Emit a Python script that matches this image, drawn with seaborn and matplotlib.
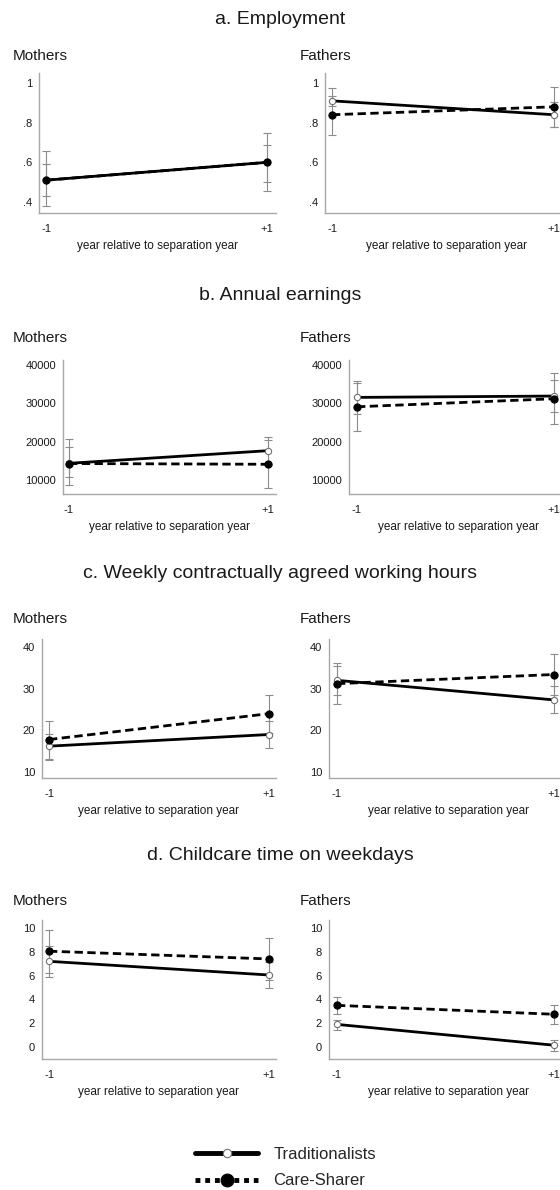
import matplotlib
matplotlib.use("Agg")
import matplotlib.pyplot as plt
from matplotlib.lines import Line2D
import seaborn as sns

# ---- data -------------------------------------------------------------
years = [-1, 1]
xtick_labels = ["-1", "+1"]
groups = ["Traditionalists", "Care-Sharer"]

# a. Employment (share employed)
emp_mothers_trad = [0.51, 0.60]
emp_mothers_trad_lo = [0.43, 0.50]
emp_mothers_trad_hi = [0.59, 0.685]
emp_mothers_care = [0.51, 0.60]
emp_mothers_care_lo = [0.38, 0.455]
emp_mothers_care_hi = [0.657, 0.75]
emp_fathers_trad = [0.91, 0.84]
emp_fathers_trad_lo = [0.885, 0.78]
emp_fathers_trad_hi = [0.935, 0.905]
emp_fathers_care = [0.84, 0.88]
emp_fathers_care_lo = [0.74, 0.78]
emp_fathers_care_hi = [0.975, 0.98]

# b. Annual earnings
earn_mothers_trad = [14350, 17650]
earn_mothers_trad_lo = [10700, 14000]
earn_mothers_trad_hi = [18500, 21300]
earn_mothers_care = [14300, 14100]
earn_mothers_care_lo = [8600, 7800]
earn_mothers_care_hi = [20600, 20400]
earn_fathers_trad = [31550, 31900]
earn_fathers_trad_lo = [27200, 27700]
earn_fathers_trad_hi = [35800, 36100]
earn_fathers_care = [29100, 31200]
earn_fathers_care_lo = [22900, 24700]
earn_fathers_care_hi = [35300, 37900]

# c. Weekly contractually agreed working hours
hours_mothers_trad = [16.2, 19.0]
hours_mothers_trad_lo = [13.2, 15.8]
hours_mothers_trad_hi = [19.2, 22.2]
hours_mothers_care = [17.8, 24.0]
hours_mothers_care_lo = [12.8, 19.4]
hours_mothers_care_hi = [22.2, 28.6]
hours_fathers_trad = [32.0, 27.3]
hours_fathers_trad_lo = [28.5, 24.1]
hours_fathers_trad_hi = [35.4, 30.7]
hours_fathers_care = [31.2, 33.4]
hours_fathers_care_lo = [26.3, 28.5]
hours_fathers_care_hi = [36.1, 38.3]

# d. Childcare time on weekdays (hours)
child_mothers_trad = [7.2, 6.05]
child_mothers_trad_lo = [5.9, 4.95]
child_mothers_trad_hi = [8.5, 7.15]
child_mothers_care = [8.05, 7.4]
child_mothers_care_lo = [6.2, 5.6]
child_mothers_care_hi = [9.85, 9.2]
child_fathers_trad = [1.9, 0.15]
child_fathers_trad_lo = [1.45, -0.35]
child_fathers_trad_hi = [2.3, 0.55]
child_fathers_care = [3.5, 2.75]
child_fathers_care_lo = [2.8, 1.95]
child_fathers_care_hi = [4.2, 3.5]

panel_titles = ["a. Employment", "b. Annual earnings",
                "c. Weekly contractually agreed working hours",
                "d. Childcare time on weekdays"]
parent_labels = ["Mothers", "Fathers"]

emp_ticks = [0.4, 0.6, 0.8, 1.0]
emp_tick_labels = [".4", ".6", ".8", "1"]
earn_ticks = [10000, 20000, 30000, 40000]
earn_tick_labels = ["10000", "20000", "30000", "40000"]
hours_ticks = [10, 20, 30, 40]
hours_tick_labels = ["10", "20", "30", "40"]
child_ticks = [0, 2, 4, 6, 8, 10]
child_tick_labels = ["0", "2", "4", "6", "8", "10"]

# ---- styling ----------------------------------------------------------
sns.set_theme(style="white")
plt.rcParams["font.family"] = ["Liberation Sans", "DejaVu Sans"]

W, H = 560, 1190
fig = plt.figure(figsize=(W / 100, H / 100), dpi=100)
fig.patch.set_facecolor("white")

SPINE = "#a8a8a8"
ERR = "#8c8c8c"
TXT = "#1a1a1a"

# pixel geometry of each row: top, bottom, (tick value, pixel) pairs, and
# per-column (left, right, px of -1, px of +1)
rows = [
    dict(top=73, bottom=213, t1=(1.0, 83), t2=(0.4, 202),
         cols=[(39, 276, 46, 267), (325, 567, 332, 554)], title_y=20, lab_y=56),
    dict(top=360, bottom=494, t1=(40000, 365), t2=(10000, 480),
         cols=[(63, 276, 69, 268), (349, 567, 357, 554)], title_y=295, lab_y=338),
    dict(top=639, bottom=778, t1=(40, 647), t2=(10, 772),
         cols=[(42, 276, 49, 269), (329, 567, 337, 554)], title_y=573, lab_y=619),
    dict(top=920, bottom=1059, t1=(10, 928), t2=(0, 1047),
         cols=[(42, 276, 49, 269), (329, 567, 337, 554)], title_y=855, lab_y=901),
]

row_data = [
    [[(emp_mothers_trad, emp_mothers_trad_lo, emp_mothers_trad_hi),
      (emp_mothers_care, emp_mothers_care_lo, emp_mothers_care_hi)],
     [(emp_fathers_trad, emp_fathers_trad_lo, emp_fathers_trad_hi),
      (emp_fathers_care, emp_fathers_care_lo, emp_fathers_care_hi)]],
    [[(earn_mothers_trad, earn_mothers_trad_lo, earn_mothers_trad_hi),
      (earn_mothers_care, earn_mothers_care_lo, earn_mothers_care_hi)],
     [(earn_fathers_trad, earn_fathers_trad_lo, earn_fathers_trad_hi),
      (earn_fathers_care, earn_fathers_care_lo, earn_fathers_care_hi)]],
    [[(hours_mothers_trad, hours_mothers_trad_lo, hours_mothers_trad_hi),
      (hours_mothers_care, hours_mothers_care_lo, hours_mothers_care_hi)],
     [(hours_fathers_trad, hours_fathers_trad_lo, hours_fathers_trad_hi),
      (hours_fathers_care, hours_fathers_care_lo, hours_fathers_care_hi)]],
    [[(child_mothers_trad, child_mothers_trad_lo, child_mothers_trad_hi),
      (child_mothers_care, child_mothers_care_lo, child_mothers_care_hi)],
     [(child_fathers_trad, child_fathers_trad_lo, child_fathers_trad_hi),
      (child_fathers_care, child_fathers_care_lo, child_fathers_care_hi)]],
]
row_ticks = [(emp_ticks, emp_tick_labels), (earn_ticks, earn_tick_labels),
             (hours_ticks, hours_tick_labels), (child_ticks, child_tick_labels)]

trad_style = dict(color="black", linewidth=2.0, marker="o", markersize=4.5,
                  markerfacecolor="white", markeredgecolor="#707070",
                  markeredgewidth=0.8)
care_style = dict(color="black", linewidth=2.0, linestyle=(0, (3, 1.6)),
                  marker="o", markersize=5.2, markerfacecolor="black",
                  markeredgecolor="black")

for r, spec in enumerate(rows):
    fig.text(0.5, 1 - spec["title_y"] / H, panel_titles[r], ha="center",
             va="center", fontsize=14, color=TXT)
    (v1, p1), (v2, p2) = spec["t1"], spec["t2"]
    sy = (p2 - p1) / (v1 - v2)
    ymax = v1 + (p1 - spec["top"]) / sy
    ymin = v2 - (spec["bottom"] - p2) / sy
    for c, (L, R, A, B) in enumerate(spec["cols"]):
        ax = fig.add_axes([L / W, 1 - spec["bottom"] / H, (R - L) / W,
                           (spec["bottom"] - spec["top"]) / H])
        sx = (B - A) / 2
        ax.set_xlim(-1 - (A - L) / sx, 1 + (R - B) / sx)
        ax.set_ylim(ymin, ymax)

        (trad, tlo, thi), (care, clo, chi) = row_data[r][c]
        for mean, lo, hi in ((care, clo, chi), (trad, tlo, thi)):
            ax.errorbar(years, mean,
                        yerr=[[m - l for m, l in zip(mean, lo)],
                              [h - m for m, h in zip(mean, hi)]],
                        fmt="none", ecolor=ERR, elinewidth=0.8, capsize=3,
                        capthick=0.8, zorder=1)
        sns.lineplot(x=years, y=trad, ax=ax, zorder=3, **trad_style)
        sns.lineplot(x=years, y=care, ax=ax, zorder=4, **care_style)

        ticks, labels = row_ticks[r]
        ax.set_yticks(ticks)
        ax.set_yticklabels(labels)
        ax.set_xticks(years)
        ax.set_xticklabels(xtick_labels)
        ax.tick_params(axis="both", length=0, labelsize=8, colors=TXT)
        ax.tick_params(axis="y", pad=5)
        ax.tick_params(axis="x", pad=8)
        ax.set_xlabel("year relative to separation year", fontsize=8.5,
                      color=TXT, labelpad=4)
        ax.set_ylabel("")
        for side in ("top", "right"):
            ax.spines[side].set_visible(False)
        for side in ("left", "bottom"):
            ax.spines[side].set_color(SPINE)
            ax.spines[side].set_linewidth(1.0)
        ax.set_facecolor("white")
        ax.grid(False)

        lab_x = 13 if c == 0 else 300
        fig.text(lab_x / W, 1 - spec["lab_y"] / H, parent_labels[c],
                 ha="left", va="center", fontsize=11, color=TXT)

# legend
handles = [
    Line2D([], [], color="black", linewidth=3.5, marker="o", markersize=6,
           markerfacecolor="white", markeredgecolor="#707070",
           markeredgewidth=0.8),
    Line2D([], [], color="black", linewidth=3.5, linestyle=(0, (1, 1)),
           marker="o", markersize=9, markerfacecolor="black",
           markeredgecolor="black"),
]
fig.legend(handles, groups, loc="center left",
           bbox_to_anchor=(195 / W, 1 - 1167.5 / H), frameon=False,
           fontsize=12, handlelength=3.8, handletextpad=0.9,
           labelspacing=0.7, borderpad=0, borderaxespad=0, numpoints=1)

fig.savefig("out.png", dpi=100, facecolor="white")
